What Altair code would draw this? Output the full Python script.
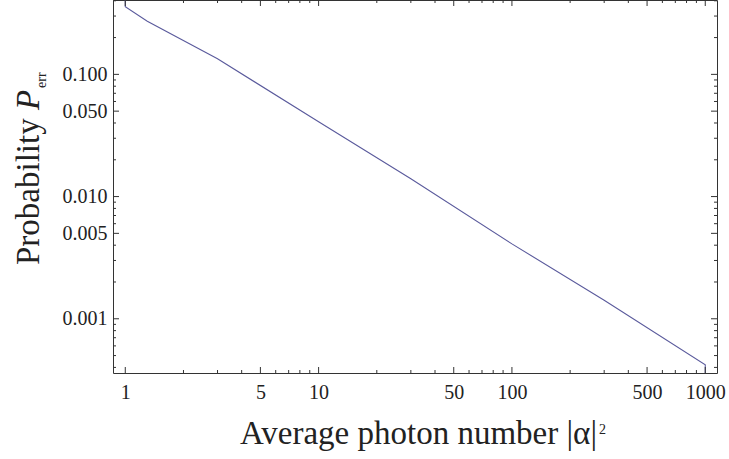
import altair as alt
import pandas as pd

# ---- data ----
photon_n = [1, 1, 1.3, 3, 10, 30, 100, 300, 1000, 1000]
p_err = [0.406, 0.357, 0.272, 0.134, 0.041, 0.0140, 0.0041, 0.00142, 0.00042, 0.00036]

x_major = [1, 5, 10, 50, 100, 500, 1000]
x_minor = [2, 3, 4, 6, 7, 8, 9, 20, 30, 40, 60, 70, 80, 90,
           200, 300, 400, 600, 700, 800, 900]
y_major = [0.001, 0.005, 0.01, 0.05, 0.1]
y_minor = [0.0004, 0.0005, 0.0006, 0.0007, 0.0008, 0.0009,
           0.002, 0.003, 0.004, 0.006, 0.007, 0.008, 0.009,
           0.02, 0.03, 0.04, 0.06, 0.07, 0.08, 0.09,
           0.2, 0.3, 0.4]

x_title = "Average photon number |α|"
x_title_sup = "2"
y_title = "Probability "
y_title_sym = "P"
y_title_sub = "err"

W, H = 604, 373
XDOM = [0.864, 1150]
YDOM = [0.00036, 0.406]
FONT = "Liberation Serif"
INK = "#333333"
TXT = "#222222"
MAJ, MIN = 6, 3

xs = alt.Scale(type="log", domain=XDOM, nice=False)
ys = alt.Scale(type="log", domain=YDOM, nice=False)

ax_x = alt.Axis(values=x_major, format="d", domain=False, ticks=False, grid=False,
                tickSize=0, labelFont=FONT, labelFontSize=20, labelColor=TXT,
                labelBaseline="alphabetic", labelPadding=25, labelFlush=False,
                title=None)
ax_y = alt.Axis(values=y_major, format=".3f", domain=False, ticks=False, grid=False,
                tickSize=0, labelFont=FONT, labelFontSize=20, labelColor=TXT,
                labelPadding=6, title=None)

df = pd.DataFrame({"n": photon_n, "p": p_err, "i": list(range(len(photon_n)))})

line = alt.Chart(df).mark_line(color="#5a5a9c", strokeWidth=1.1, clip=True).encode(
    x=alt.X("n:Q", scale=xs, axis=ax_x),
    y=alt.Y("p:Q", scale=ys, axis=ax_y),
    order="i:Q",
)

def xticks(vals, length):
    d = pd.DataFrame({"n": vals})
    bottom = alt.Chart(d).mark_rule(color=INK, strokeWidth=1).encode(
        x=alt.X("n:Q", scale=xs, axis=ax_x), y=alt.value(H), y2=alt.value(H - length))
    top = alt.Chart(d).mark_rule(color=INK, strokeWidth=1).encode(
        x=alt.X("n:Q", scale=xs, axis=ax_x), y=alt.value(0), y2=alt.value(length))
    return [bottom, top]

def yticks(vals, length):
    d = pd.DataFrame({"p": vals})
    left = alt.Chart(d).mark_rule(color=INK, strokeWidth=1).encode(
        y=alt.Y("p:Q", scale=ys, axis=ax_y), x=alt.value(0), x2=alt.value(length))
    right = alt.Chart(d).mark_rule(color=INK, strokeWidth=1).encode(
        y=alt.Y("p:Q", scale=ys, axis=ax_y), x=alt.value(W), x2=alt.value(W - length))
    return [left, right]

tick_layers = xticks(x_major, MAJ) + xticks(x_minor, MIN) + yticks(y_major, MAJ) + yticks(y_minor, MIN)

one = pd.DataFrame({"a": [0]})
xt = alt.Chart(one).mark_text(text=x_title, font=FONT, fontSize=33, color=TXT,
                              align="right", baseline="alphabetic").encode(
    x=alt.value(484), y=alt.value(444))
xt2 = alt.Chart(one).mark_text(text=x_title_sup, font=FONT, fontSize=14, color=TXT,
                               align="left", baseline="alphabetic").encode(
    x=alt.value(486), y=alt.value(434))
yt = alt.Chart(one).mark_text(text=y_title, font=FONT, fontSize=33, color=TXT, angle=270,
                              align="left", baseline="alphabetic").encode(
    x=alt.value(-74), y=alt.value(265))
yt2 = alt.Chart(one).mark_text(text=y_title_sym, font=FONT, fontSize=33, color=TXT, angle=270,
                               fontStyle="italic", align="left", baseline="alphabetic").encode(
    x=alt.value(-74), y=alt.value(110))
yt3 = alt.Chart(one).mark_text(text=y_title_sub, font=FONT, fontSize=14, color=TXT, angle=270,
                               align="left", baseline="alphabetic").encode(
    x=alt.value(-67), y=alt.value(88))

chart = alt.layer(line, *tick_layers, xt, xt2, yt, yt2, yt3).properties(
    width=W, height=H,
    autosize=alt.AutoSizeParams(type="none"),
    padding={"left": 113, "top": 0, "right": 12, "bottom": 86},
    background="white",
).configure_view(stroke=INK, strokeWidth=1)

chart.save("out.html", embed_options={"renderer": "svg", "actions": False})
